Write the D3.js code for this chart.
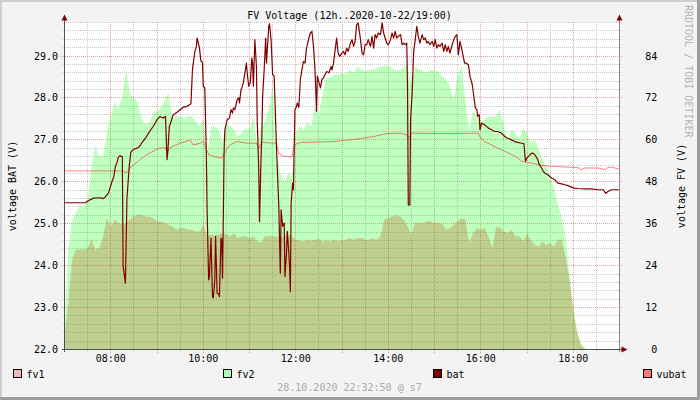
<!DOCTYPE html>
<html>
<head>
<meta charset="utf-8">
<script src="https://cdn.jsdelivr.net/npm/d3@7/dist/d3.min.js"></script>
<style>
body { margin: 0; background: #f3f3f3; }
svg { display: block; font-family: "DejaVu Sans Mono", monospace; font-size: 10px; }
</style>
</head>
<body>
<svg width="700" height="400"></svg>
<script>
// **** data ****

// fv1 / fv2 samples, every 5 minutes (right axis, V)
var fvTimes = [
    "07:00","07:05","07:10","07:15","07:20","07:25","07:30","07:35","07:40","07:45","07:50","07:55",
    "08:00","08:05","08:10","08:15","08:20","08:25","08:30","08:35","08:40","08:45","08:50","08:55",
    "09:00","09:05","09:10","09:15","09:20","09:25","09:30","09:35","09:40","09:45","09:50","09:55",
    "10:00","10:05","10:10","10:15","10:20","10:25","10:30","10:35","10:40","10:45","10:50","10:55",
    "11:00","11:05","11:10","11:15","11:20","11:25","11:30","11:35","11:40","11:45","11:50","11:55",
    "12:00","12:05","12:10","12:15","12:20","12:25","12:30","12:35","12:40","12:45","12:50","12:55",
    "13:00","13:05","13:10","13:15","13:20","13:25","13:30","13:35","13:40","13:45","13:50","13:55",
    "14:00","14:05","14:10","14:15","14:20","14:25","14:30","14:35","14:40","14:45","14:50","14:55",
    "15:00","15:05","15:10","15:15","15:20","15:25","15:30","15:35","15:40","15:45","15:50","15:55",
    "16:00","16:05","16:10","16:15","16:20","16:25","16:30","16:35","16:40","16:45","16:50","16:55",
    "17:00","17:05","17:10","17:15","17:20","17:25","17:30","17:35","17:40","17:45","17:50","17:55",
    "18:00","18:05","18:10","18:15","18:20","18:25","18:30","18:35","18:40","18:45","18:50","18:55",
    "19:00"
];
var fv1 = [
    4.0, 13.3, 25.7, 28.6, 28.6, 28.6, 29.0, 31.4, 28.6, 29.0, 32.4, 37.6,
    35.2, 37.2, 36.2, 35.7, 36.2, 37.2, 38.1, 38.6, 38.6, 38.1, 38.1, 37.6,
    36.7, 36.7, 36.2, 35.7, 35.2, 34.3, 34.8, 34.8, 34.3, 34.3, 33.8, 33.8,
    35.7, 32.4, 32.9, 32.6, 32.9, 33.3, 32.9, 32.4, 33.3, 31.9, 32.4, 32.4,
    31.9, 32.4, 30.9, 30.5, 32.4, 32.4, 32.4, 32.4, 31.9, 32.4, 32.9, 32.4,
    31.4, 31.2, 30.9, 31.4, 31.2, 31.4, 31.6, 30.9, 31.2, 30.9, 31.4, 30.9,
    31.4, 31.4, 31.9, 31.4, 31.9, 31.9, 31.4, 31.4, 31.9, 31.4, 32.4, 37.2,
    37.6, 38.1, 38.6, 38.1, 37.2, 35.2, 32.9, 36.2, 36.2, 36.0, 36.7, 36.7,
    36.2, 36.2, 36.0, 34.3, 34.8, 35.7, 36.7, 37.6, 37.2, 30.5, 33.3, 34.8,
    34.3, 34.8, 32.4, 29.0, 35.2, 34.8, 33.8, 33.3, 34.3, 32.4, 32.4, 30.9,
    33.3, 31.4, 30.0, 29.5, 30.9, 30.0, 30.5, 29.5, 31.4, 31.4, 26.6, 20.0,
    11.4, 4.7, 1.3, 0.2, 0, 0, 0, 0, 0, 0, 0, 0,
    0
];
var fv2 = [
    5.0, 28.6, 37.2, 39.1, 41.5, 40.5, 42.9, 52.4, 58.2, 55.3, 55.3, 62.0,
    66.8, 70.6, 68.7, 72.5, 80.1, 73.0, 72.0, 70.6, 65.8, 64.4, 64.9, 67.2,
    68.2, 69.1, 71.5, 73.4, 66.3, 66.8, 66.8, 66.3, 66.8, 66.8, 65.3, 63.9,
    65.8, 55.3, 63.9, 63.9, 62.9, 59.1, 64.9, 63.9, 62.9, 61.0, 62.0, 63.4,
    62.9, 66.8, 59.1, 63.4, 65.3, 68.7, 76.3, 56.3, 50.5, 47.7, 50.5, 49.6,
    62.0, 63.9, 62.9, 64.9, 63.9, 69.6, 67.2, 73.4, 77.7, 77.7, 78.7, 78.7,
    79.2, 78.7, 80.1, 79.2, 81.1, 79.9, 79.7, 80.1, 80.1, 80.6, 81.1, 81.1,
    81.3, 80.6, 79.7, 80.1, 80.6, 81.6, 75.4, 81.1, 80.1, 79.7, 79.2, 80.1,
    79.7, 79.7, 78.2, 77.3, 75.4, 71.5, 78.2, 81.1, 71.5, 62.5, 68.2, 66.8,
    64.9, 65.8, 66.8, 66.8, 66.8, 68.7, 63.9, 60.1, 62.9, 62.0, 60.1, 63.4,
    62.0, 59.1, 60.1, 57.2, 54.3, 52.4, 49.6, 46.2, 41.5, 38.1, 32.4, 21.9,
    12.0, 5.2, 1.6, 0.3, 0, 0, 0, 0, 0, 0, 0, 0,
    0
];

// battery voltage (left axis)
var bat = [
    ["07:00",25.50],["07:27",25.50],["07:33",25.57],["07:38",25.61],["07:46",25.62],["07:50",25.60],
    ["07:53",25.64],["07:57",25.73],["07:59",25.85],["08:01",25.97],["08:04",26.13],["08:06",26.37],
    ["08:08",26.45],["08:10",26.60],["08:12",26.62],["08:15",26.60],["08:16",24.00],["08:19",23.58],
    ["08:21",25.60],["08:24",26.37],["08:26",26.70],["08:29",26.77],["08:35",26.81],["08:38",26.86],
    ["08:40",26.92],["08:45",27.04],["08:49",27.16],["08:55",27.32],["09:00",27.48],["09:04",27.56],
    ["09:08",27.52],["09:11",27.56],["09:13",26.53],["09:14",26.70],["09:16",27.32],["09:19",27.48],
    ["09:21",27.60],["09:26",27.66],["09:30",27.72],["09:34",27.78],["09:39",27.80],["09:44",27.86],
    ["09:46",28.67],["09:49",29.10],["09:51",29.22],["09:52",29.43],["09:55",29.20],["09:57",28.88],
    ["09:59",28.85],["10:00",28.28],["10:02",28.24],["10:04",26.69],["10:05",25.33],["10:07",23.66],
    ["10:08",23.74],["10:10",24.66],["10:12",23.26],["10:13",23.23],["10:15",23.66],["10:16",24.70],
    ["10:18",23.34],["10:20",23.33],["10:21",23.26],["10:23",24.66],["10:24",24.62],["10:25",23.70],
    ["10:26",25.09],["10:27",26.69],["10:28",27.24],["10:31",27.48],["10:34",27.52],["10:36",27.72],
    ["10:38",27.64],["10:39",27.76],["10:41",27.72],["10:44",27.96],["10:46",28.00],["10:47",27.88],
    ["10:49",28.20],["10:50",28.24],["10:52",28.36],["10:54",28.60],["10:56",28.83],["10:57",28.60],
    ["10:59",28.28],["11:01",28.36],["11:03",28.95],["11:04",28.83],["11:05",28.28],["11:07",29.39],
    ["11:09",28.75],["11:10",27.48],["11:12",26.29],["11:13",25.05],["11:15",26.61],["11:16",27.08],
    ["11:17",28.04],["11:19",28.67],["11:21",29.43],["11:22",28.83],["11:25",29.71],["11:26",29.77],
    ["11:28",29.39],["11:30",28.56],["11:32",28.52],["11:35",26.84],["11:38",25.41],["11:40",23.82],
    ["11:41",25.33],["11:43",24.94],["11:45",25.02],["11:46",23.74],["11:48",24.30],["11:49",24.82],
    ["11:51",24.30],["11:52",23.98],["11:53",23.38],["11:54",25.49],["11:56",25.97],["11:57",25.81],
    ["11:58",26.84],["11:59",27.72],["12:01",27.80],["12:02",27.88],["12:04",27.78],["12:06",28.44],
    ["12:08",28.67],["12:10",28.87],["12:12",28.83],["12:14",29.19],["12:17",29.43],["12:19",29.55],
    ["12:21",29.59],["12:23",29.23],["12:25",28.67],["12:27",27.68],["12:28",28.52],["12:32",28.24],
    ["12:34",28.44],["12:36",28.48],["12:40",28.63],["12:43",28.60],["12:46",28.75],["12:47",28.67],
    ["12:49",28.83],["12:53",29.43],["12:55",29.07],["12:57",28.99],["13:00",29.07],["13:02",29.11],
    ["13:04",29.03],["13:06",29.19],["13:08",29.11],["13:11",29.31],["13:13",29.39],["13:15",29.23],
    ["13:17",29.35],["13:19",29.75],["13:21",29.79],["13:24",29.39],["13:26",29.07],["13:28",29.03],
    ["13:30",29.27],["13:32",29.27],["13:34",29.39],["13:37",29.23],["13:39",29.47],["13:41",29.19],
    ["13:43",29.51],["13:45",29.43],["13:47",29.55],["13:50",29.51],["13:52",29.79],["13:54",29.55],
    ["13:56",29.43],["13:58",29.31],["14:00",29.27],["14:03",29.39],["14:05",29.55],["14:07",29.43],
    ["14:09",29.59],["14:11",29.43],["14:13",29.47],["14:16",29.51],["14:18",29.27],["14:20",29.31],
    ["14:22",29.27],["14:24",29.31],["14:25",28.28],["14:26",25.45],["14:28",25.45],["14:29",27.48],
    ["14:31",28.12],["14:33",29.11],["14:35",29.39],["14:37",29.71],["14:39",29.47],["14:41",29.31],
    ["14:44",29.51],["14:46",29.39],["14:48",29.43],["14:50",29.31],["14:52",29.35],["14:54",29.27],
    ["14:57",29.35],["14:59",29.23],["15:01",29.39],["15:03",29.19],["15:05",29.27],["15:07",29.23],
    ["15:10",29.31],["15:12",29.11],["15:14",29.27],["15:16",29.11],["15:18",29.23],["15:20",29.07],
    ["15:23",29.27],["15:25",29.39],["15:27",29.47],["15:29",29.51],["15:31",29.03],["15:33",29.35],
    ["15:36",29.11],["15:39",28.83],["15:41",28.83],["15:44",28.79],["15:46",28.52],["15:49",28.32],
    ["15:51",28.04],["15:53",27.76],["15:55",27.72],["15:56",27.56],["15:58",27.60],["15:59",27.24],
    ["16:01",27.40],["16:05",27.36],["16:10",27.28],["16:14",27.24],["16:18",27.20],["16:22",27.20],
    ["16:27",27.16],["16:31",27.08],["16:35",27.04],["16:40",27.00],["16:44",26.96],["16:48",26.94],
    ["16:53",26.92],["16:56",26.91],["16:58",26.49],["17:00",26.57],["17:04",26.65],["17:07",26.69],
    ["17:10",26.65],["17:14",26.53],["17:16",26.41],["17:19",26.33],["17:21",26.25],["17:23",26.21],
    ["17:27",26.17],["17:32",26.09],["17:36",26.05],["17:40",25.97],["17:45",25.95],["17:49",25.93],
    ["17:53",25.91],["18:01",25.85],["18:06",25.84],["18:15",25.83],["18:24",25.83],["18:32",25.81],
    ["18:39",25.81],["18:42",25.72],["18:45",25.77],["18:50",25.81],["19:00",25.81]
];

// vubat (left axis)
var vubat = [
    ["07:00",26.26],["08:14",26.26],["08:21",26.22],["08:25",26.33],["08:30",26.41],["08:38",26.53],
    ["08:47",26.65],["08:55",26.73],["09:04",26.81],["09:11",26.81],["09:13",26.69],["09:17",26.81],
    ["09:21",26.85],["09:30",26.92],["09:43",26.99],["09:47",26.88],["09:56",26.92],["10:00",26.96],
    ["10:02",26.88],["10:07",26.65],["10:13",26.61],["10:22",26.57],["10:24",26.57],["10:31",26.80],
    ["10:35",26.88],["10:44",26.96],["10:57",26.92],["11:09",26.92],["11:12",26.80],["11:16",26.94],
    ["11:35",26.92],["11:38",26.67],["11:44",26.61],["11:55",26.59],["11:58",26.88],["12:06",26.94],
    ["12:49",26.96],["13:19",27.02],["13:41",27.08],["13:58",27.15],["14:16",27.16],["14:24",27.12],
    ["14:26",27.04],["14:31",27.16],["15:07",27.15],["15:51",27.16],["15:57",27.16],["15:59",27.06],
    ["16:05",26.96],["16:14",26.88],["16:22",26.80],["16:31",26.73],["16:40",26.65],["16:48",26.57],
    ["16:53",26.49],["17:10",26.43],["17:19",26.39],["17:32",26.37],["18:06",26.34],["18:11",26.29],
    ["18:15",26.33],["18:32",26.33],["18:41",26.29],["18:45",26.34],["18:50",26.35],["19:00",26.30]
];

var leftTicks = [22, 23, 24, 25, 26, 27, 28, 29];
var rightTicks = [0, 12, 24, 36, 48, 60, 72, 84];
var timeTicks = ["08:00", "10:00", "12:00", "14:00", "16:00", "18:00"];
var legendItems = [
    {name: "fv1", color: "rgba(255,0,0,0.25)"},
    {name: "fv2", color: "rgba(0,255,0,0.25)"},
    {name: "bat", color: "#800000"},
    {name: "vubat", color: "rgba(255,0,0,0.5)"}
];

var parseTime = d3.timeParse("%Y-%m-%d %H:%M");
function t(s) { return parseTime("2020-10-22 " + s); }
function px(v) { return Math.floor(v) + 0.5; }

var svg = d3.select('svg');

/**
 * Scales
 */
var xScale = d3.scaleTime().domain([t("07:00"), t("19:00")]).range([64.5, 619.5]);
var yLeft = d3.scaleLinear().domain([22, 29.8]).range([349.5, 22.5]);
var yRight = d3.scaleLinear().domain([0, 93.6]).range([349.5, 22.5]);

/**
 * Frame and canvas
 */
svg.append('rect').attr('width', 700).attr('height', 400).attr('fill', '#f3f3f3');
svg.append('rect').attr('width', 700).attr('height', 2).attr('fill', '#cecece');
svg.append('rect').attr('width', 2).attr('height', 400).attr('fill', '#cecece');
svg.append('rect').attr('y', 397).attr('width', 700).attr('height', 3).attr('fill', '#9e9e9e');
svg.append('rect').attr('x', 697).attr('width', 3).attr('height', 400).attr('fill', '#9e9e9e');
svg.append('rect')
    .attr('x', 64).attr('y', 22)
    .attr('width', 556).attr('height', 328)
    .attr('fill', '#ffffff');

/**
 * Grid
 */
var grid = svg.append('g').attr('shape-rendering', 'crispEdges');
var minorY = d3.range(1, 40).map(function(i){ return 22 + i * 0.2; })
    .filter(function(v){ return Math.abs(v - Math.round(v)) > 0.01; });
var minorX = d3.timeMinute.every(30).range(t("07:30"), t("19:00"))
    .filter(function(d){ return d.getMinutes() === 30; });
var majorX = d3.timeHour.every(1).range(t("08:00"), t("19:00"));

grid.selectAll('.minor-y').data(minorY).enter().append('line')
    .attr('x1', 62).attr('x2', 622)
    .attr('y1', function(d){ return px(yLeft(d)); })
    .attr('y2', function(d){ return px(yLeft(d)); })
    .attr('stroke', '#c6c6c6').attr('stroke-dasharray', '1,1');
grid.selectAll('.minor-x').data(minorX).enter().append('line')
    .attr('y1', 22).attr('y2', 352)
    .attr('x1', function(d){ return px(xScale(d)); })
    .attr('x2', function(d){ return px(xScale(d)); })
    .attr('stroke', '#c6c6c6').attr('stroke-dasharray', '1,1');
grid.selectAll('.major-y').data(leftTicks.slice(1)).enter().append('line')
    .attr('x1', 61).attr('x2', 623)
    .attr('y1', function(d){ return px(yLeft(d)); })
    .attr('y2', function(d){ return px(yLeft(d)); })
    .attr('stroke', '#eb9c9c').attr('stroke-dasharray', '1,1');
grid.selectAll('.major-x').data(majorX).enter().append('line')
    .attr('y1', 22).attr('y2', 353)
    .attr('x1', function(d){ return px(xScale(d)); })
    .attr('x2', function(d){ return px(xScale(d)); })
    .attr('stroke', '#eb9c9c').attr('stroke-dasharray', '1,1');

/**
 * Areas and lines
 */
var fvData = fvTimes.map(function(s, i){
    return {time: t(s), fv1: fv1[i], fv2: fv2[i]};
});
var clip = svg.append('clipPath').attr('id', 'plot')
    .append('rect').attr('x', 64.5).attr('y', 22).attr('width', 555).attr('height', 328);
var plot = svg.append('g').attr('clip-path', 'url(#plot)');

var areaFv1 = d3.area()
    .x(function(d){ return xScale(d.time); })
    .y0(yRight(0))
    .y1(function(d){ return yRight(d.fv1); });
var areaFv2 = d3.area()
    .x(function(d){ return xScale(d.time); })
    .y0(yRight(0))
    .y1(function(d){ return yRight(d.fv2); });

plot.append('path').datum(fvData).attr('d', areaFv1).attr('fill', 'rgba(255,0,0,0.25)');
plot.append('path').datum(fvData).attr('d', areaFv2).attr('fill', 'rgba(0,255,0,0.25)');

var voltLine = d3.line()
    .x(function(d){ return xScale(t(d[0])); })
    .y(function(d){ return yLeft(d[1]); });

plot.append('path').datum(vubat).attr('d', voltLine)
    .attr('fill', 'none').attr('stroke', 'rgba(255,0,0,0.5)').attr('stroke-width', 1);
plot.append('path').datum(bat).attr('d', voltLine)
    .attr('fill', 'none').attr('stroke', '#800000').attr('stroke-width', 1.2)
    .attr('stroke-linejoin', 'round');

/**
 * Axes
 */
var axes = svg.append('g').attr('shape-rendering', 'crispEdges');
axes.append('line').attr('x1', 64.5).attr('x2', 64.5).attr('y1', 352).attr('y2', 19)
    .attr('stroke', '#505050');
axes.append('line').attr('x1', 619.5).attr('x2', 619.5).attr('y1', 352).attr('y2', 19)
    .attr('stroke', '#8c8c8c');
axes.append('line').attr('x1', 62).attr('x2', 623).attr('y1', 349.5).attr('y2', 349.5)
    .attr('stroke', '#505050');

var arrows = svg.append('g').attr('fill', '#800000');
arrows.append('path').attr('d', 'M61.5,20.5 L64.5,14.5 L67.5,20.5 Z');
arrows.append('path').attr('d', 'M616.5,20.5 L619.5,14.5 L622.5,20.5 Z');
arrows.append('path').attr('d', 'M621.5,346.5 L627.5,349.5 L621.5,352.5 Z');

/**
 * Labels
 */
var fmt = d3.format('.1f');
svg.selectAll('.left-label').data(leftTicks).enter().append('text')
    .attr('x', 58).attr('y', function(d){ return yLeft(d) + 3.5; })
    .attr('text-anchor', 'end').attr('fill', '#000')
    .text(function(d){ return fmt(d); });
svg.selectAll('.right-label').data(rightTicks).enter().append('text')
    .attr('x', 657.3).attr('y', function(d){ return yRight(d) + 3.5; })
    .attr('text-anchor', 'end').attr('fill', '#000')
    .text(function(d){ return d; });
svg.selectAll('.time-label').data(timeTicks).enter().append('text')
    .attr('x', function(d){ return xScale(t(d)); }).attr('y', 362)
    .attr('text-anchor', 'middle').attr('fill', '#000')
    .text(function(d){ return d; });

svg.append('text')
    .attr('x', 349.5).attr('y', 19)
    .attr('text-anchor', 'middle').attr('fill', '#000')
    .text('FV Voltage (12h..2020-10-22/19:00)');

svg.append('text')
    .attr('transform', 'translate(15.5,186) rotate(-90)')
    .attr('text-anchor', 'middle').attr('fill', '#000')
    .text('voltage BAT (V)');
svg.append('text')
    .attr('transform', 'translate(684.5,186) rotate(-90)')
    .attr('text-anchor', 'middle').attr('fill', '#000')
    .text('voltage FV (V)');

svg.append('text')
    .attr('transform', 'translate(685,5) rotate(90)')
    .attr('fill', '#b4b4b4')
    .text('RRDTOOL / TOBI OETIKER');

/**
 * Legend
 */
var legendX = [13.5, 223.5, 433.5, 643.5];
var legend = svg.selectAll('.legend').data(legendItems).enter().append('g')
    .attr('transform', function(d, i){ return 'translate(' + legendX[i] + ',369.5)'; });
legend.append('rect')
    .attr('width', 8).attr('height', 8)
    .attr('fill', function(d){ return d.color; })
    .attr('stroke', '#000').attr('shape-rendering', 'crispEdges');
legend.append('text')
    .attr('x', 13).attr('y', 8)
    .attr('fill', '#000')
    .text(function(d){ return d.name; });

svg.append('text')
    .attr('x', 349.5).attr('y', 391)
    .attr('text-anchor', 'middle').attr('fill', '#aaaaaa')
    .text('28.10.2020 22:32:50 @ s7');
</script>
</body>
</html>
